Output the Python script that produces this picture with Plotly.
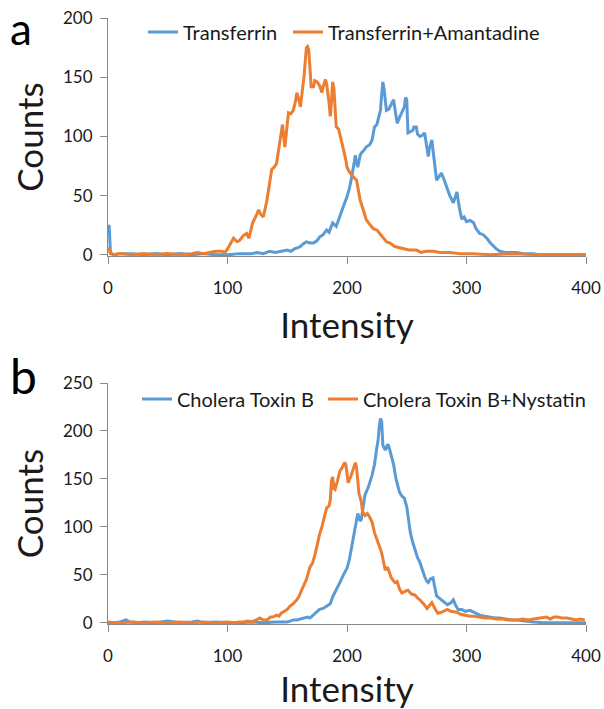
import plotly.graph_objects as go

# ---------------- Data ----------------
# Panel a: Transferrin
tf_x = [0, 1, 2, 3, 5, 10, 20, 30, 40, 50, 60, 70, 80, 90, 100, 110, 120, 125, 130, 135, 140, 145, 150, 153, 156, 159,
        161, 163, 166, 169, 172, 175, 177, 180, 183, 185, 188, 191, 194, 197, 200, 202, 204, 206, 207, 208, 209, 211,
        212, 214, 216, 219, 221, 223, 225, 226, 228, 229, 230, 231, 232, 233, 235, 236, 238, 239, 240, 242, 244, 246,
        248, 249, 250, 251, 253, 255, 256, 258, 259, 261, 263, 265, 266, 268, 269, 271, 272, 274, 275, 277, 279, 281,
        284, 286, 289, 290, 292, 294, 296, 298, 300, 303, 306, 308, 311, 314, 317, 320, 322, 325, 328, 332, 336, 342,
        348, 356, 360, 370, 380, 400]
tf_y = [25, 24, 3, 1, 0, 1, 1, 0, 1, 0, 1, 0, 1, 0, 0, 1, 1, 2, 1, 3, 2, 3, 4, 3, 5, 6,
        7, 9, 11, 10, 10, 12, 15, 17, 21, 19, 27, 24, 33, 41, 49, 56, 66, 80, 84, 78, 74, 84,
        86, 88, 91, 93, 97, 108, 110, 114, 122, 135, 146, 140, 128, 122, 123, 125, 128, 131, 124, 111, 116, 120,
        125, 133, 131, 103, 104, 105, 108, 108, 102, 100, 101, 103, 96, 83, 90, 97, 88, 72, 63, 66, 69, 64,
        55, 50, 44, 47, 53, 40, 30, 32, 28, 29, 27, 22, 18, 17, 14, 10, 8, 5, 3, 2, 2, 2,
        1, 1, 0, 0, 0, 0]

# Panel a: Transferrin+Amantadine
ta_x = [0, 1, 2, 5, 10, 20, 30, 40, 50, 60, 70, 75, 80, 85, 90, 95, 98, 100, 103, 105, 108, 110, 113, 116, 118, 121,
        124, 126, 128, 130, 133, 135, 137, 139, 141, 143, 145, 146, 148, 150, 151, 153, 155, 157, 158, 160, 161, 163,
        164, 166, 167, 168, 169, 170, 172, 173, 175, 177, 179, 180, 182, 183, 185, 186, 187, 188, 189, 190, 191, 193,
        195, 197, 199, 200, 202, 204, 206, 208, 210, 211, 213, 216, 218, 220, 222, 225, 228, 231, 233, 236, 240, 244,
        248, 252, 258, 262, 266, 272, 278, 286, 295, 305, 320, 340, 360, 380, 400]
ta_y = [6, 5, 1, 0, 1, 0, 1, 0, 1, 0, 1, 2, 1, 2, 3, 3, 2, 5, 10, 14, 11, 12, 16, 18, 14, 27,
        33, 38, 34, 32, 46, 60, 72, 74, 77, 90, 103, 110, 91, 112, 120, 119, 122, 130, 137, 130, 125, 142,
        150, 175, 176, 173, 160, 142, 142, 147, 146, 143, 137, 142, 148, 144, 128, 117, 130, 146, 141, 124, 108, 106,
        96, 89, 80, 74, 70, 67, 65, 63, 52, 46, 40, 30, 27, 24, 22, 21, 17, 14, 11, 10, 7, 6,
        5, 4, 4, 2, 3, 3, 2, 2, 1, 1, 0, 1, 0, 0, 0]

# Panel b: Cholera Toxin B
ct_x = [0, 5, 10, 15, 18, 25, 30, 40, 50, 55, 60, 70, 75, 80, 90, 100, 110, 120, 130, 140, 145, 150, 153, 155, 158,
        161, 164, 167, 169, 172, 175, 177, 180, 183, 186, 188, 191, 194, 197, 200, 202, 205, 207, 209, 211, 212, 215,
        218, 221, 223, 225, 226, 227, 228, 229, 230, 232, 234, 235, 237, 239, 241, 242, 244, 246, 248, 250, 252, 253,
        255, 257, 259, 261, 263, 265, 267, 268, 270, 272, 273, 275, 278, 281, 284, 287, 289, 291, 293, 296, 299, 303,
        306, 309, 311, 315, 320, 324, 328, 333, 338, 342, 348, 356, 365, 380, 400]
ct_y = [1, 0, 1, 3, 1, 0, 1, 0, 2, 1, 0, 1, 2, 0, 1, 0, 0, 1, 0, 1, 1, 1, 2, 3, 3,
        4, 5, 6, 5, 8, 12, 14, 15, 18, 20, 27, 34, 42, 50, 57, 66, 86, 100, 114, 106, 108, 133,
        142, 154, 165, 183, 190, 205, 213, 210, 185, 180, 186, 184, 174, 165, 150, 146, 136, 132, 130, 121, 104, 94,
        84, 75, 68, 63, 55, 48, 43, 42, 46, 47, 40, 28, 25, 22, 19, 21, 24, 18, 14, 14, 12, 13,
        11, 9, 8, 7, 6, 5, 5, 4, 3, 3, 2, 1, 0, 0, 0]

# Panel b: Cholera Toxin B+Nystatin
cn_x = [0, 10, 20, 30, 40, 50, 60, 70, 80, 90, 100, 105, 110, 113, 117, 120, 124, 127, 130, 133, 136, 138, 141, 143,
        145, 148, 150, 152, 155, 158, 160, 162, 164, 166, 169, 171, 173, 175, 177, 179, 181, 183, 185, 186, 187, 188,
        189, 190, 192, 194, 196, 198, 199, 200, 201, 203, 205, 207, 208, 209, 210, 212, 213, 215, 217, 219, 221, 223,
        225, 227, 229, 231, 232, 234, 236, 237, 240, 242, 244, 246, 249, 251, 254, 257, 259, 261, 264, 267, 269, 271,
        274, 276, 279, 282, 284, 287, 290, 292, 295, 298, 300, 303, 306, 311, 315, 320, 325, 330, 335, 339, 343, 347,
        352, 356, 360, 364, 367, 370, 373, 376, 380, 384, 388, 392, 395, 399]
cn_y = [0, 0, 1, 0, 1, 0, 1, 0, 1, 0, 1, 0, 1, 1, 2, 1, 3, 5, 3, 3, 6, 6, 8, 7,
        10, 12, 14, 17, 20, 24, 28, 34, 40, 45, 58, 62, 70, 82, 92, 100, 110, 120, 122, 128, 148, 152,
        140, 139, 148, 158, 162, 167, 165, 154, 146, 152, 160, 167, 162, 150, 135, 126, 116, 112, 114, 110, 105, 94,
        88, 80, 73, 62, 55, 58, 50, 47, 42, 43, 35, 31, 33, 34, 30, 29, 26, 24, 20, 15, 18, 21,
        14, 10, 11, 13, 14, 12, 11, 11, 9, 8, 8, 7, 7, 6, 5, 5, 4, 4, 3, 3, 3, 4,
        3, 4, 5, 6, 6, 4, 6, 6, 5, 5, 4, 3, 4, 3]

names_a = ["Transferrin", "Transferrin+Amantadine"]
names_b = ["Cholera Toxin B", "Cholera Toxin B+Nystatin"]
x_ticks = [0, 100, 200, 300, 400]
ya_ticks = [0, 50, 100, 150, 200]
yb_ticks = [0, 50, 100, 150, 200, 250]

BLUE = "#5B9BD5"
ORANGE = "#ED7D31"
AXIS = "#898989"
TXT = "#1a1a1a"
FONT = "Lato"
LW = 3

fig = go.Figure()
fig.add_trace(go.Scatter(x=tf_x, y=tf_y, mode="lines", name=names_a[0], line=dict(color=BLUE, width=LW),
                         xaxis="x", yaxis="y", legend="legend"))
fig.add_trace(go.Scatter(x=ta_x, y=ta_y, mode="lines", name=names_a[1], line=dict(color=ORANGE, width=LW),
                         xaxis="x", yaxis="y", legend="legend2"))
fig.add_trace(go.Scatter(x=ct_x, y=ct_y, mode="lines", name=names_b[0], line=dict(color=BLUE, width=LW),
                         xaxis="x2", yaxis="y2", legend="legend3"))
fig.add_trace(go.Scatter(x=cn_x, y=cn_y, mode="lines", name=names_b[1], line=dict(color=ORANGE, width=LW),
                         xaxis="x2", yaxis="y2", legend="legend4"))

H = 709
PW = 478
def dom(top_px, bot_px):
    return [1 - bot_px / H, 1 - top_px / H]

def leg(x_px, y_px):
    return dict(orientation="h", x=(x_px - 108) / PW, y=1 - y_px / H, xanchor="left", yanchor="middle",
                font=dict(family=FONT, size=20, color=TXT), bgcolor="rgba(0,0,0,0)", itemwidth=30)

xcommon = dict(range=[0, 400], tickvals=x_ticks, showline=True, linecolor=AXIS, linewidth=1,
               ticks="outside", ticklen=7, tickcolor=AXIS, showgrid=False, zeroline=False,
               tickfont=dict(family=FONT, size=17, color=TXT), automargin=False,
               ticklabelstandoff=10,
               title=dict(text="Intensity", font=dict(family=FONT, size=35, color=TXT), standoff=16))
ycommon = dict(showline=True, linecolor=AXIS, linewidth=1, ticks="outside", ticklen=7, tickcolor=AXIS,
               showgrid=False, zeroline=False, tickfont=dict(family=FONT, size=17, color=TXT), automargin=False,
               ticklabelstandoff=4,
               title=dict(text="Counts", font=dict(family=FONT, size=35, color=TXT), standoff=8))

fig.update_layout(
    width=604, height=709, template="none",
    paper_bgcolor="white", plot_bgcolor="white",
    margin=dict(l=108, r=18, t=0, b=0),
    font=dict(family=FONT, color=TXT),
    xaxis=dict(domain=[0, 1], anchor="y", **xcommon),
    yaxis=dict(domain=dom(18, 256), anchor="x", range=[-1, 200], tickvals=ya_ticks, **ycommon),
    xaxis2=dict(domain=[0, 1], anchor="y2", **xcommon),
    yaxis2=dict(domain=dom(383, 624), anchor="x2", range=[-1.2, 250], tickvals=yb_ticks, **ycommon),
    legend=leg(143, 32),
    legend2=leg(288, 32),
    legend3=leg(137, 399),
    legend4=leg(323, 399),
    showlegend=True,
    annotations=[
        dict(text="a", xref="paper", yref="paper", x=(8 - 108) / 478, y=1, xanchor="left",
             yanchor="top", showarrow=False, font=dict(family=FONT, size=44, color="#000")),
        dict(text="b", xref="paper", yref="paper", x=(8 - 108) / 478, y=1 - 376 / H, xanchor="left",
             yanchor="middle", showarrow=False, font=dict(family=FONT, size=48, color="#000")),
    ],
)

fig.write_html("out.html", config={"displayModeBar": False},
               post_script="document.body.style.margin='0px';")
